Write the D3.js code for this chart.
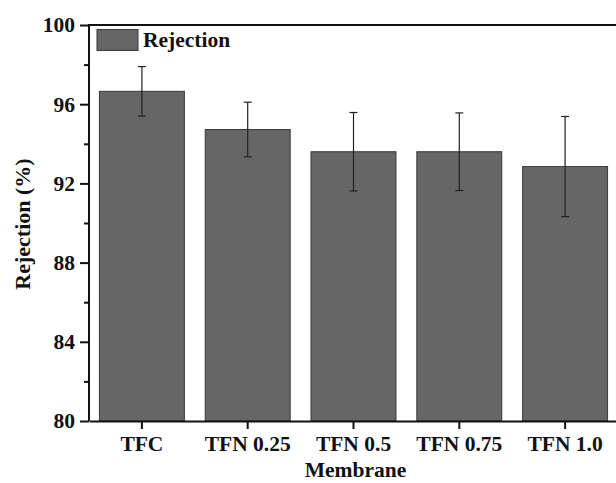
<!DOCTYPE html>
<html>
<head>
<meta charset="utf-8">
<script src="https://cdn.jsdelivr.net/npm/d3@7"></script>
<style>
  body { margin: 0; background: #fff; }
  text { font-family: "Liberation Serif", "Times New Roman", serif; font-weight: bold; }
</style>
</head>
<body>
<div id="chart"></div>
<script>
var membranes = ["TFC", "TFN 0.25", "TFN 0.5", "TFN 0.75", "TFN 1.0"];
var rejection = [96.65, 94.72, 93.6, 93.6, 92.85];
var rejectionErr = [1.25, 1.38, 1.98, 1.96, 2.53];
var yTicks = [80, 84, 88, 92, 96, 100];

var chart = {
  width: 616,
  height: 483,
  top: 25,
  left: 89,
  right: 618,
  bottom: 421,
}

var svg = d3.select("#chart")
  .append("svg")
  .attr("width", chart.width)
  .attr("height", chart.height);

/* scales */
var x = d3.scaleBand()
  .domain(membranes)
  .range([chart.left, chart.right])
  .paddingInner(0.197)
  .paddingOuter(0.0985);

var y = d3.scaleLinear()
  .domain([80, 100])
  .range([chart.bottom, chart.top]);

/* bars */
svg.selectAll("rect.bar")
  .data(membranes)
  .enter()
  .append("rect")
  .attr("class", "bar")
  .attr("x", (d) => x(d))
  .attr("y", (d, i) => y(rejection[i]))
  .attr("width", x.bandwidth())
  .attr("height", (d, i) => y(80) - y(rejection[i]))
  .style("fill", "#666666")
  .style("stroke", "#3a3a3a")
  .style("stroke-width", 1);

/* error bars */
var err = svg.selectAll("g.err")
  .data(membranes)
  .enter()
  .append("g")
  .attr("class", "err")
  .style("stroke", "#222")
  .style("stroke-width", 1.2);

err.append("line")
  .attr("x1", (d) => x(d) + x.bandwidth() / 2)
  .attr("x2", (d) => x(d) + x.bandwidth() / 2)
  .attr("y1", (d, i) => y(rejection[i] + rejectionErr[i]))
  .attr("y2", (d, i) => y(rejection[i] - rejectionErr[i]));

[1, -1].forEach((s) => {
  err.append("line")
    .attr("x1", (d) => x(d) + x.bandwidth() / 2 - 4)
    .attr("x2", (d) => x(d) + x.bandwidth() / 2 + 4)
    .attr("y1", (d, i) => y(rejection[i] + s * rejectionErr[i]))
    .attr("y2", (d, i) => y(rejection[i] + s * rejectionErr[i]));
});

/* axes */
var yAxis = svg.append("g")
  .attr("transform", "translate(" + chart.left + ",0)")
  .call(d3.axisLeft(y).tickValues(yTicks).tickSize(9).tickPadding(5).tickFormat(d3.format("d")));

var yMinor = svg.append("g")
  .attr("transform", "translate(" + chart.left + ",0)")
  .call(d3.axisLeft(y).tickValues([82, 86, 90, 94, 98]).tickSize(5).tickFormat(""));
yMinor.select(".domain").remove();

var xAxis = svg.append("g")
  .attr("transform", "translate(0," + chart.bottom + ")")
  .call(d3.axisBottom(x).tickSize(8).tickPadding(7).tickSizeOuter(0));

[yAxis, yMinor, xAxis].forEach((g) => {
  g.selectAll("line").style("stroke", "#111").style("stroke-width", 2);
  g.select(".domain").style("stroke", "#111").style("stroke-width", 2);
  g.selectAll("text")
    .style("font-size", "21.5px")
    .style("font-family", "'Liberation Serif', 'Times New Roman', serif")
    .style("font-weight", "bold")
    .style("fill", "#111");
});
xAxis.selectAll("text").attr("dy", "0.71em");
yAxis.select(".domain").attr("d", "M0," + chart.bottom + "V" + chart.top);

/* top frame */
svg.append("line")
  .attr("x1", chart.left - 1)
  .attr("x2", chart.width)
  .attr("y1", chart.top)
  .attr("y2", chart.top)
  .style("stroke", "#111")
  .style("stroke-width", 2);

/* legend */
svg.append("rect")
  .attr("x", 97)
  .attr("y", 29.5)
  .attr("width", 41)
  .attr("height", 21)
  .style("fill", "#666666")
  .style("stroke", "#3a3a3a")
  .style("stroke-width", 1);

svg.append("text")
  .attr("x", 143)
  .attr("y", 47)
  .style("font-size", "21.5px")
  .style("fill", "#111")
  .text("Rejection");

/* axis titles */
svg.append("text")
  .attr("x", (chart.left + chart.right) / 2 + 2)
  .attr("y", 477)
  .style("text-anchor", "middle")
  .style("font-size", "21.5px")
  .style("fill", "#111")
  .text("Membrane");

svg.append("text")
  .attr("transform", "translate(30," + ((chart.top + chart.bottom) / 2 + 1) + ") rotate(-90)")
  .style("text-anchor", "middle")
  .style("font-size", "22px")
  .style("fill", "#111")
  .text("Rejection (%)");
</script>
</body>
</html>
